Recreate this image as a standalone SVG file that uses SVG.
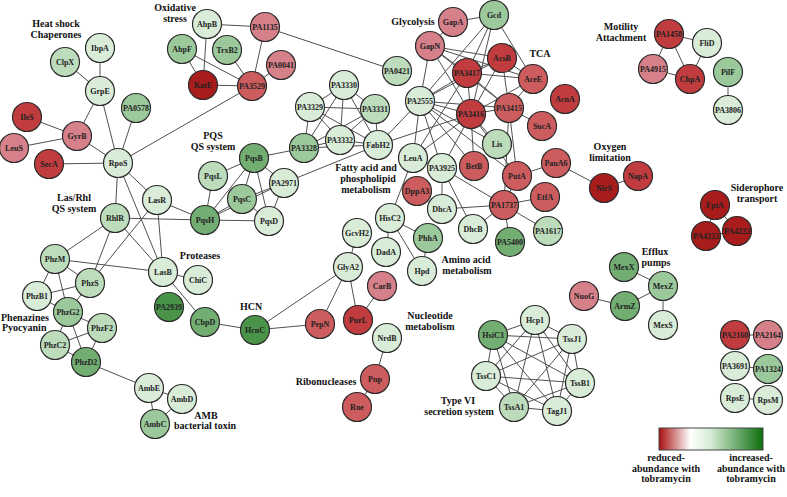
<svg xmlns="http://www.w3.org/2000/svg" width="787" height="497" viewBox="0 0 787 497">
<defs>
<linearGradient id="lg" x1="0" y1="0" x2="1" y2="0">
<stop offset="0" stop-color="#a80f0f"/>
<stop offset="0.3" stop-color="#ffffff"/>
<stop offset="0.5" stop-color="#d4ebd4"/>
<stop offset="1" stop-color="#0c6e0c"/>
</linearGradient>
</defs>
<style>
circle{stroke:#2b2b2b;stroke-width:1.2}
.nl{font-family:"Liberation Serif",serif;font-weight:bold;font-size:8px;fill:#222;text-anchor:middle}
.cl{font-family:"Liberation Serif",serif;font-weight:bold;font-size:10px;fill:#111;text-anchor:middle}
.st{text-anchor:start}
#edges line{stroke:#505050;stroke-width:1}
.r5{fill:#a81c1c}.r4{fill:#c03c3e}.r3{fill:#cc5c5e}.r2{fill:#d6808a}.r1{fill:#e0a0a2}
.g1{fill:#d8ecd8}.g2{fill:#bcdcbc}.g3{fill:#9cc99c}.g4{fill:#72ad72}.g5{fill:#4a944a}
</style>
<rect width="787" height="497" fill="#ffffff"/>
<g id="edges">
<line x1="100" y1="48" x2="100" y2="91"/>
<line x1="65" y1="62" x2="100" y2="91"/>
<line x1="100" y1="91" x2="77" y2="136"/>
<line x1="100" y1="91" x2="118" y2="163"/>
<line x1="27" y1="117" x2="77" y2="136"/>
<line x1="14" y1="148" x2="77" y2="136"/>
<line x1="77" y1="136" x2="118" y2="163"/>
<line x1="49" y1="164" x2="118" y2="163"/>
<line x1="136" y1="108" x2="118" y2="163"/>
<line x1="118" y1="163" x2="252" y2="86"/>
<line x1="207" y1="24" x2="265" y2="27"/>
<line x1="207" y1="24" x2="203" y2="85"/>
<line x1="182" y1="49" x2="203" y2="85"/>
<line x1="182" y1="49" x2="252" y2="86"/>
<line x1="227" y1="50" x2="252" y2="86"/>
<line x1="265" y1="27" x2="252" y2="86"/>
<line x1="281" y1="65" x2="252" y2="86"/>
<line x1="203" y1="85" x2="252" y2="86"/>
<line x1="265" y1="27" x2="397" y2="71"/>
<line x1="344" y1="85" x2="310" y2="107"/>
<line x1="344" y1="85" x2="375" y2="109"/>
<line x1="344" y1="85" x2="340" y2="140"/>
<line x1="344" y1="85" x2="304" y2="148"/>
<line x1="344" y1="85" x2="378" y2="145"/>
<line x1="310" y1="107" x2="375" y2="109"/>
<line x1="310" y1="107" x2="340" y2="140"/>
<line x1="310" y1="107" x2="304" y2="148"/>
<line x1="310" y1="107" x2="378" y2="145"/>
<line x1="375" y1="109" x2="340" y2="140"/>
<line x1="375" y1="109" x2="304" y2="148"/>
<line x1="375" y1="109" x2="378" y2="145"/>
<line x1="340" y1="140" x2="304" y2="148"/>
<line x1="340" y1="140" x2="378" y2="145"/>
<line x1="304" y1="148" x2="378" y2="145"/>
<line x1="254" y1="158" x2="304" y2="148"/>
<line x1="378" y1="145" x2="420" y2="101"/>
<line x1="378" y1="145" x2="471" y2="114"/>
<line x1="284" y1="183" x2="378" y2="145"/>
<line x1="254" y1="158" x2="213" y2="176"/>
<line x1="254" y1="158" x2="205" y2="220"/>
<line x1="254" y1="158" x2="242" y2="199"/>
<line x1="254" y1="158" x2="269" y2="221"/>
<line x1="254" y1="158" x2="284" y2="183"/>
<line x1="213" y1="176" x2="205" y2="220"/>
<line x1="205" y1="220" x2="242" y2="199"/>
<line x1="205" y1="220" x2="269" y2="221"/>
<line x1="205" y1="220" x2="284" y2="183"/>
<line x1="242" y1="199" x2="269" y2="221"/>
<line x1="242" y1="199" x2="284" y2="183"/>
<line x1="284" y1="183" x2="269" y2="221"/>
<line x1="118" y1="163" x2="157" y2="200"/>
<line x1="118" y1="163" x2="115" y2="218"/>
<line x1="118" y1="163" x2="163" y2="272"/>
<line x1="157" y1="200" x2="205" y2="220"/>
<line x1="157" y1="200" x2="163" y2="272"/>
<line x1="157" y1="200" x2="90" y2="283"/>
<line x1="115" y1="218" x2="205" y2="220"/>
<line x1="115" y1="218" x2="55" y2="259"/>
<line x1="115" y1="218" x2="90" y2="283"/>
<line x1="115" y1="218" x2="163" y2="272"/>
<line x1="55" y1="259" x2="163" y2="272"/>
<line x1="55" y1="259" x2="90" y2="283"/>
<line x1="55" y1="259" x2="37" y2="296"/>
<line x1="55" y1="259" x2="68" y2="312"/>
<line x1="90" y1="283" x2="37" y2="296"/>
<line x1="90" y1="283" x2="68" y2="312"/>
<line x1="37" y1="296" x2="68" y2="312"/>
<line x1="163" y1="272" x2="198" y2="280"/>
<line x1="163" y1="272" x2="205" y2="322"/>
<line x1="205" y1="322" x2="255" y2="330"/>
<line x1="68" y1="312" x2="55" y2="345"/>
<line x1="68" y1="312" x2="102" y2="328"/>
<line x1="68" y1="312" x2="86" y2="362"/>
<line x1="55" y1="345" x2="102" y2="328"/>
<line x1="55" y1="345" x2="86" y2="362"/>
<line x1="102" y1="328" x2="86" y2="362"/>
<line x1="86" y1="362" x2="149" y2="388"/>
<line x1="149" y1="388" x2="182" y2="399"/>
<line x1="149" y1="388" x2="155" y2="424"/>
<line x1="182" y1="399" x2="155" y2="424"/>
<line x1="255" y1="330" x2="320" y2="324"/>
<line x1="255" y1="330" x2="348" y2="267"/>
<line x1="348" y1="267" x2="357" y2="233"/>
<line x1="348" y1="267" x2="320" y2="324"/>
<line x1="348" y1="267" x2="358" y2="320"/>
<line x1="358" y1="320" x2="382" y2="286"/>
<line x1="387" y1="338" x2="375" y2="379"/>
<line x1="375" y1="379" x2="357" y2="407"/>
<line x1="453" y1="22" x2="494" y2="15"/>
<line x1="453" y1="22" x2="430" y2="46"/>
<line x1="494" y1="15" x2="467" y2="73"/>
<line x1="494" y1="15" x2="471" y2="114"/>
<line x1="494" y1="15" x2="533" y2="79"/>
<line x1="494" y1="15" x2="420" y2="101"/>
<line x1="430" y1="46" x2="420" y2="101"/>
<line x1="430" y1="46" x2="467" y2="73"/>
<line x1="430" y1="46" x2="502" y2="58"/>
<line x1="430" y1="46" x2="533" y2="79"/>
<line x1="430" y1="46" x2="471" y2="114"/>
<line x1="430" y1="46" x2="509" y2="108"/>
<line x1="502" y1="58" x2="467" y2="73"/>
<line x1="502" y1="58" x2="533" y2="79"/>
<line x1="502" y1="58" x2="471" y2="114"/>
<line x1="502" y1="58" x2="509" y2="108"/>
<line x1="502" y1="58" x2="420" y2="101"/>
<line x1="467" y1="73" x2="471" y2="114"/>
<line x1="467" y1="73" x2="509" y2="108"/>
<line x1="467" y1="73" x2="533" y2="79"/>
<line x1="467" y1="73" x2="420" y2="101"/>
<line x1="471" y1="114" x2="509" y2="108"/>
<line x1="471" y1="114" x2="533" y2="79"/>
<line x1="471" y1="114" x2="420" y2="101"/>
<line x1="509" y1="108" x2="533" y2="79"/>
<line x1="509" y1="108" x2="420" y2="101"/>
<line x1="509" y1="108" x2="542" y2="126"/>
<line x1="471" y1="114" x2="497" y2="144"/>
<line x1="420" y1="101" x2="497" y2="144"/>
<line x1="420" y1="101" x2="413" y2="158"/>
<line x1="420" y1="101" x2="442" y2="168"/>
<line x1="420" y1="101" x2="474" y2="166"/>
<line x1="420" y1="101" x2="517" y2="176"/>
<line x1="471" y1="114" x2="413" y2="158"/>
<line x1="471" y1="114" x2="442" y2="168"/>
<line x1="471" y1="114" x2="474" y2="166"/>
<line x1="471" y1="114" x2="517" y2="176"/>
<line x1="467" y1="73" x2="413" y2="158"/>
<line x1="509" y1="108" x2="504" y2="205"/>
<line x1="509" y1="108" x2="517" y2="176"/>
<line x1="517" y1="176" x2="556" y2="163"/>
<line x1="517" y1="176" x2="504" y2="205"/>
<line x1="556" y1="163" x2="604" y2="188"/>
<line x1="604" y1="188" x2="638" y2="176"/>
<line x1="504" y1="205" x2="545" y2="197"/>
<line x1="504" y1="205" x2="548" y2="231"/>
<line x1="504" y1="205" x2="510" y2="242"/>
<line x1="504" y1="205" x2="473" y2="229"/>
<line x1="504" y1="205" x2="442" y2="209"/>
<line x1="504" y1="205" x2="442" y2="168"/>
<line x1="442" y1="209" x2="442" y2="168"/>
<line x1="473" y1="229" x2="442" y2="168"/>
<line x1="413" y1="158" x2="390" y2="218"/>
<line x1="413" y1="158" x2="442" y2="168"/>
<line x1="390" y1="218" x2="428" y2="238"/>
<line x1="390" y1="218" x2="386" y2="252"/>
<line x1="390" y1="218" x2="422" y2="271"/>
<line x1="428" y1="238" x2="422" y2="271"/>
<line x1="669" y1="34" x2="707" y2="43"/>
<line x1="669" y1="34" x2="653" y2="69"/>
<line x1="669" y1="34" x2="690" y2="79"/>
<line x1="653" y1="69" x2="690" y2="79"/>
<line x1="707" y1="43" x2="690" y2="79"/>
<line x1="728" y1="72" x2="728" y2="110"/>
<line x1="715" y1="205" x2="706" y2="236"/>
<line x1="715" y1="205" x2="737" y2="231"/>
<line x1="706" y1="236" x2="737" y2="231"/>
<line x1="624" y1="267" x2="663" y2="286"/>
<line x1="663" y1="286" x2="625" y2="306"/>
<line x1="663" y1="286" x2="663" y2="325"/>
<line x1="625" y1="306" x2="584" y2="296"/>
<line x1="735" y1="335" x2="768" y2="335"/>
<line x1="735" y1="366" x2="768" y2="369"/>
<line x1="735" y1="398" x2="768" y2="400"/>
<line x1="535" y1="320" x2="493" y2="335"/>
<line x1="535" y1="320" x2="572" y2="339"/>
<line x1="535" y1="320" x2="486" y2="376"/>
<line x1="535" y1="320" x2="580" y2="383"/>
<line x1="535" y1="320" x2="514" y2="407"/>
<line x1="535" y1="320" x2="557" y2="411"/>
<line x1="493" y1="335" x2="572" y2="339"/>
<line x1="493" y1="335" x2="486" y2="376"/>
<line x1="493" y1="335" x2="580" y2="383"/>
<line x1="493" y1="335" x2="514" y2="407"/>
<line x1="493" y1="335" x2="557" y2="411"/>
<line x1="572" y1="339" x2="486" y2="376"/>
<line x1="572" y1="339" x2="580" y2="383"/>
<line x1="572" y1="339" x2="514" y2="407"/>
<line x1="572" y1="339" x2="557" y2="411"/>
<line x1="486" y1="376" x2="580" y2="383"/>
<line x1="486" y1="376" x2="514" y2="407"/>
<line x1="486" y1="376" x2="557" y2="411"/>
<line x1="580" y1="383" x2="514" y2="407"/>
<line x1="580" y1="383" x2="557" y2="411"/>
<line x1="514" y1="407" x2="557" y2="411"/>
</g>
<g id="n-IbpA"><circle cx="100" cy="48" r="14.5" class="g1"/><text class="nl" x="100" y="51">IbpA</text></g>
<g id="n-ClpX"><circle cx="65" cy="62" r="14.5" class="g2"/><text class="nl" x="65" y="65">ClpX</text></g>
<g id="n-GrpE"><circle cx="100" cy="91" r="14.5" class="g1"/><text class="nl" x="100" y="94">GrpE</text></g>
<g id="n-PA0578"><circle cx="136" cy="108" r="14.5" class="g3"/><text class="nl" x="136" y="111">PA0578</text></g>
<g id="n-IleS"><circle cx="27" cy="117" r="14.5" class="r4"/><text class="nl" x="27" y="120">IleS</text></g>
<g id="n-GyrB"><circle cx="77" cy="136" r="14.5" class="r2"/><text class="nl" x="77" y="139">GyrB</text></g>
<g id="n-LeuS"><circle cx="14" cy="148" r="14.5" class="r2"/><text class="nl" x="14" y="151">LeuS</text></g>
<g id="n-SecA"><circle cx="49" cy="164" r="14.5" class="r4"/><text class="nl" x="49" y="167">SecA</text></g>
<g id="n-RpoS"><circle cx="118" cy="163" r="14.5" class="g1"/><text class="nl" x="118" y="166">RpoS</text></g>
<g id="n-AhpB"><circle cx="207" cy="24" r="14.5" class="g1"/><text class="nl" x="207" y="27">AhpB</text></g>
<g id="n-AhpF"><circle cx="182" cy="49" r="14.5" class="g3"/><text class="nl" x="182" y="52">AhpF</text></g>
<g id="n-TrxB2"><circle cx="227" cy="50" r="14.5" class="g3"/><text class="nl" x="227" y="53">TrxB2</text></g>
<g id="n-PA1135"><circle cx="265" cy="27" r="14.5" class="r2"/><text class="nl" x="265" y="30">PA1135</text></g>
<g id="n-PA0041"><circle cx="281" cy="65" r="14.5" class="r2"/><text class="nl" x="281" y="68">PA0041</text></g>
<g id="n-KatE"><circle cx="203" cy="85" r="14.5" class="r5"/><text class="nl" x="203" y="88">KatE</text></g>
<g id="n-PA3529"><circle cx="252" cy="86" r="14.5" class="r3"/><text class="nl" x="252" y="89">PA3529</text></g>
<g id="n-PA3330"><circle cx="344" cy="85" r="14.5" class="g1"/><text class="nl" x="344" y="88">PA3330</text></g>
<g id="n-PA3329"><circle cx="310" cy="107" r="14.5" class="g1"/><text class="nl" x="310" y="110">PA3329</text></g>
<g id="n-PA3331"><circle cx="375" cy="109" r="14.5" class="g2"/><text class="nl" x="375" y="112">PA3331</text></g>
<g id="n-PA3332"><circle cx="340" cy="140" r="14.5" class="g1"/><text class="nl" x="340" y="143">PA3332</text></g>
<g id="n-PA3328"><circle cx="304" cy="148" r="14.5" class="g3"/><text class="nl" x="304" y="151">PA3328</text></g>
<g id="n-FabH2"><circle cx="378" cy="145" r="14.5" class="g1"/><text class="nl" x="378" y="148">FabH2</text></g>
<g id="n-PqsB"><circle cx="254" cy="158" r="14.5" class="g4"/><text class="nl" x="254" y="161">PqsB</text></g>
<g id="n-PqsL"><circle cx="213" cy="176" r="14.5" class="g2"/><text class="nl" x="213" y="179">PqsL</text></g>
<g id="n-PA2971"><circle cx="284" cy="183" r="14.5" class="g1"/><text class="nl" x="284" y="186">PA2971</text></g>
<g id="n-PqsC"><circle cx="242" cy="199" r="14.5" class="g3"/><text class="nl" x="242" y="202">PqsC</text></g>
<g id="n-PqsH"><circle cx="205" cy="220" r="14.5" class="g4"/><text class="nl" x="205" y="223">PqsH</text></g>
<g id="n-PqsD"><circle cx="269" cy="221" r="14.5" class="g1"/><text class="nl" x="269" y="224">PqsD</text></g>
<g id="n-GapA"><circle cx="453" cy="22" r="14.5" class="r2"/><text class="nl" x="453" y="25">GapA</text></g>
<g id="n-Gcd"><circle cx="494" cy="15" r="14.5" class="g3"/><text class="nl" x="494" y="18">Gcd</text></g>
<g id="n-GapN"><circle cx="430" cy="46" r="14.5" class="r2"/><text class="nl" x="430" y="49">GapN</text></g>
<g id="n-PA0421"><circle cx="397" cy="71" r="14.5" class="g2"/><text class="nl" x="397" y="74">PA0421</text></g>
<g id="n-AcsB"><circle cx="502" cy="58" r="14.5" class="r4"/><text class="nl" x="502" y="61">AcsB</text></g>
<g id="n-PA3417"><circle cx="467" cy="73" r="14.5" class="r4"/><text class="nl" x="467" y="76">PA3417</text></g>
<g id="n-AceE"><circle cx="533" cy="79" r="14.5" class="r3"/><text class="nl" x="533" y="82">AceE</text></g>
<g id="n-AcnA"><circle cx="565" cy="99" r="14.5" class="r4"/><text class="nl" x="565" y="102">AcnA</text></g>
<g id="n-PA2555"><circle cx="420" cy="101" r="14.5" class="g1"/><text class="nl" x="420" y="104">PA2555</text></g>
<g id="n-PA3416"><circle cx="471" cy="114" r="14.5" class="r4"/><text class="nl" x="471" y="117">PA3416</text></g>
<g id="n-PA3415"><circle cx="509" cy="108" r="14.5" class="r3"/><text class="nl" x="509" y="111">PA3415</text></g>
<g id="n-SucA"><circle cx="542" cy="126" r="14.5" class="r3"/><text class="nl" x="542" y="129">SucA</text></g>
<g id="n-Lis"><circle cx="497" cy="144" r="14.5" class="g2"/><text class="nl" x="497" y="147">Lis</text></g>
<g id="n-LeuA"><circle cx="413" cy="158" r="14.5" class="g1"/><text class="nl" x="413" y="161">LeuA</text></g>
<g id="n-PA3925"><circle cx="442" cy="168" r="14.5" class="g1"/><text class="nl" x="442" y="171">PA3925</text></g>
<g id="n-BetB"><circle cx="474" cy="166" r="14.5" class="r3"/><text class="nl" x="474" y="169">BetB</text></g>
<g id="n-PauA6"><circle cx="556" cy="163" r="14.5" class="r3"/><text class="nl" x="556" y="166">PauA6</text></g>
<g id="n-PutA"><circle cx="517" cy="176" r="14.5" class="r3"/><text class="nl" x="517" y="179">PutA</text></g>
<g id="n-DppA3"><circle cx="417" cy="191" r="14.5" class="r3"/><text class="nl" x="417" y="194">DppA3</text></g>
<g id="n-PA1737"><circle cx="504" cy="205" r="14.5" class="r3"/><text class="nl" x="504" y="208">PA1737</text></g>
<g id="n-EtfA"><circle cx="545" cy="197" r="14.5" class="r3"/><text class="nl" x="545" y="200">EtfA</text></g>
<g id="n-DhcA"><circle cx="442" cy="209" r="14.5" class="g1"/><text class="nl" x="442" y="212">DhcA</text></g>
<g id="n-HisC2"><circle cx="390" cy="218" r="14.5" class="g1"/><text class="nl" x="390" y="221">HisC2</text></g>
<g id="n-DhcB"><circle cx="473" cy="229" r="14.5" class="g1"/><text class="nl" x="473" y="232">DhcB</text></g>
<g id="n-PA1617"><circle cx="548" cy="231" r="14.5" class="g2"/><text class="nl" x="548" y="234">PA1617</text></g>
<g id="n-PhhA"><circle cx="428" cy="238" r="14.5" class="g3"/><text class="nl" x="428" y="241">PhhA</text></g>
<g id="n-PA5400"><circle cx="510" cy="242" r="14.5" class="g4"/><text class="nl" x="510" y="245">PA5400</text></g>
<g id="n-DadA"><circle cx="386" cy="252" r="14.5" class="g1"/><text class="nl" x="386" y="255">DadA</text></g>
<g id="n-Hpd"><circle cx="422" cy="271" r="14.5" class="g1"/><text class="nl" x="422" y="274">Hpd</text></g>
<g id="n-PA1458"><circle cx="669" cy="34" r="14.5" class="r4"/><text class="nl" x="669" y="37">PA1458</text></g>
<g id="n-FliD"><circle cx="707" cy="43" r="14.5" class="g1"/><text class="nl" x="707" y="46">FliD</text></g>
<g id="n-PA4915"><circle cx="653" cy="69" r="14.5" class="r2"/><text class="nl" x="653" y="72">PA4915</text></g>
<g id="n-ChpA"><circle cx="690" cy="79" r="14.5" class="r4"/><text class="nl" x="690" y="82">ChpA</text></g>
<g id="n-PilF"><circle cx="728" cy="72" r="14.5" class="g3"/><text class="nl" x="728" y="75">PilF</text></g>
<g id="n-PA3806"><circle cx="728" cy="110" r="14.5" class="g1"/><text class="nl" x="728" y="113">PA3806</text></g>
<g id="n-NirS"><circle cx="604" cy="188" r="14.5" class="r5"/><text class="nl" x="604" y="191">NirS</text></g>
<g id="n-NapA"><circle cx="638" cy="176" r="14.5" class="r4"/><text class="nl" x="638" y="179">NapA</text></g>
<g id="n-FptA"><circle cx="715" cy="205" r="14.5" class="r5"/><text class="nl" x="715" y="208">FptA</text></g>
<g id="n-PA4223"><circle cx="706" cy="236" r="14.5" class="r5"/><text class="nl" x="706" y="239">PA4223</text></g>
<g id="n-PA4222"><circle cx="737" cy="231" r="14.5" class="r5"/><text class="nl" x="737" y="234">PA4222</text></g>
<g id="n-MexX"><circle cx="624" cy="267" r="14.5" class="g4"/><text class="nl" x="624" y="270">MexX</text></g>
<g id="n-MexZ"><circle cx="663" cy="286" r="14.5" class="g3"/><text class="nl" x="663" y="289">MexZ</text></g>
<g id="n-ArmZ"><circle cx="625" cy="306" r="14.5" class="g4"/><text class="nl" x="625" y="309">ArmZ</text></g>
<g id="n-MexS"><circle cx="663" cy="325" r="14.5" class="g1"/><text class="nl" x="663" y="328">MexS</text></g>
<g id="n-NuoG"><circle cx="584" cy="296" r="14.5" class="r2"/><text class="nl" x="584" y="299">NuoG</text></g>
<g id="n-LasR"><circle cx="157" cy="200" r="14.5" class="g1"/><text class="nl" x="157" y="203">LasR</text></g>
<g id="n-RhlR"><circle cx="115" cy="218" r="14.5" class="g2"/><text class="nl" x="115" y="221">RhlR</text></g>
<g id="n-PhzM"><circle cx="55" cy="259" r="14.5" class="g2"/><text class="nl" x="55" y="262">PhzM</text></g>
<g id="n-PhzS"><circle cx="90" cy="283" r="14.5" class="g2"/><text class="nl" x="90" y="286">PhzS</text></g>
<g id="n-LasB"><circle cx="163" cy="272" r="14.5" class="g1"/><text class="nl" x="163" y="275">LasB</text></g>
<g id="n-ChiC"><circle cx="198" cy="280" r="14.5" class="g1"/><text class="nl" x="198" y="283">ChiC</text></g>
<g id="n-PhzB1"><circle cx="37" cy="296" r="14.5" class="g1"/><text class="nl" x="37" y="299">PhzB1</text></g>
<g id="n-PhzG2"><circle cx="68" cy="312" r="14.5" class="g3"/><text class="nl" x="68" y="315">PhzG2</text></g>
<g id="n-PA2939"><circle cx="169" cy="307" r="14.5" class="g5"/><text class="nl" x="169" y="310">PA2939</text></g>
<g id="n-CbpD"><circle cx="205" cy="322" r="14.5" class="g4"/><text class="nl" x="205" y="325">CbpD</text></g>
<g id="n-PhzF2"><circle cx="102" cy="328" r="14.5" class="g2"/><text class="nl" x="102" y="331">PhzF2</text></g>
<g id="n-PhzC2"><circle cx="55" cy="345" r="14.5" class="g2"/><text class="nl" x="55" y="348">PhzC2</text></g>
<g id="n-PhzD2"><circle cx="86" cy="362" r="14.5" class="g4"/><text class="nl" x="86" y="365">PhzD2</text></g>
<g id="n-AmbE"><circle cx="149" cy="388" r="14.5" class="g1"/><text class="nl" x="149" y="391">AmbE</text></g>
<g id="n-AmbD"><circle cx="182" cy="399" r="14.5" class="g1"/><text class="nl" x="182" y="402">AmbD</text></g>
<g id="n-AmbC"><circle cx="155" cy="424" r="14.5" class="g3"/><text class="nl" x="155" y="427">AmbC</text></g>
<g id="n-GcvH2"><circle cx="357" cy="233" r="14.5" class="g1"/><text class="nl" x="357" y="236">GcvH2</text></g>
<g id="n-GlyA2"><circle cx="348" cy="267" r="14.5" class="g1"/><text class="nl" x="348" y="270">GlyA2</text></g>
<g id="n-CarB"><circle cx="382" cy="286" r="14.5" class="r2"/><text class="nl" x="382" y="289">CarB</text></g>
<g id="n-HcnC"><circle cx="255" cy="330" r="14.5" class="g5"/><text class="nl" x="255" y="333">HcnC</text></g>
<g id="n-PepN"><circle cx="320" cy="324" r="14.5" class="r3"/><text class="nl" x="320" y="327">PepN</text></g>
<g id="n-PurL"><circle cx="358" cy="320" r="14.5" class="r4"/><text class="nl" x="358" y="323">PurL</text></g>
<g id="n-NrdB"><circle cx="387" cy="338" r="14.5" class="g1"/><text class="nl" x="387" y="341">NrdB</text></g>
<g id="n-Pnp"><circle cx="375" cy="379" r="14.5" class="r3"/><text class="nl" x="375" y="382">Pnp</text></g>
<g id="n-Rne"><circle cx="357" cy="407" r="14.5" class="r3"/><text class="nl" x="357" y="410">Rne</text></g>
<g id="n-Hcp1"><circle cx="535" cy="320" r="14.5" class="g1"/><text class="nl" x="535" y="323">Hcp1</text></g>
<g id="n-HsiC3"><circle cx="493" cy="335" r="14.5" class="g4"/><text class="nl" x="493" y="338">HsiC3</text></g>
<g id="n-TssJ1"><circle cx="572" cy="339" r="14.5" class="g1"/><text class="nl" x="572" y="342">TssJ1</text></g>
<g id="n-TssC1"><circle cx="486" cy="376" r="14.5" class="g1"/><text class="nl" x="486" y="379">TssC1</text></g>
<g id="n-TssB1"><circle cx="580" cy="383" r="14.5" class="g1"/><text class="nl" x="580" y="386">TssB1</text></g>
<g id="n-TssA1"><circle cx="514" cy="407" r="14.5" class="g2"/><text class="nl" x="514" y="410">TssA1</text></g>
<g id="n-TagJ1"><circle cx="557" cy="411" r="14.5" class="g1"/><text class="nl" x="557" y="414">TagJ1</text></g>
<g id="n-PA2160"><circle cx="735" cy="335" r="14.5" class="r4"/><text class="nl" x="735" y="338">PA2160</text></g>
<g id="n-PA2164"><circle cx="768" cy="335" r="14.5" class="r2"/><text class="nl" x="768" y="338">PA2164</text></g>
<g id="n-PA3691"><circle cx="735" cy="366" r="14.5" class="g1"/><text class="nl" x="735" y="369">PA3691</text></g>
<g id="n-PA1324"><circle cx="768" cy="369" r="14.5" class="g3"/><text class="nl" x="768" y="372">PA1324</text></g>
<g id="n-RpsE"><circle cx="735" cy="398" r="14.5" class="g1"/><text class="nl" x="735" y="401">RpsE</text></g>
<g id="n-RpsM"><circle cx="768" cy="400" r="14.5" class="g1"/><text class="nl" x="768" y="403">RpsM</text></g>
<g id="labels">
<text class="cl" x="56" y="27">Heat shock</text>
<text class="cl" x="56" y="38">Chaperones</text>
<text class="cl" x="175" y="11">Oxidative</text>
<text class="cl" x="175" y="22">stress</text>
<text class="cl" x="413" y="25">Glycolysis</text>
<text class="cl" x="540" y="57">TCA</text>
<text class="cl" x="621" y="30">Motility</text>
<text class="cl" x="621" y="41">Attachment</text>
<text class="cl" x="610" y="150">Oxygen</text>
<text class="cl" x="610" y="161">limitation</text>
<text class="cl" x="757" y="191">Siderophore</text>
<text class="cl" x="757" y="202">transport</text>
<text class="cl" x="655" y="255">Efflux</text>
<text class="cl" x="656" y="266">pumps</text>
<text class="cl" x="213" y="139">PQS</text>
<text class="cl" x="213" y="150">QS system</text>
<text class="cl" x="74" y="201">Las/Rhl</text>
<text class="cl" x="74" y="212">QS system</text>
<text class="cl" x="200" y="259">Proteases</text>
<text class="cl st" x="1" y="321">Phenazines</text>
<text class="cl st" x="2" y="331">Pyocyanin</text>
<text class="cl" x="251" y="310">HCN</text>
<text class="cl" x="366" y="171">Fatty acid and</text>
<text class="cl" x="368" y="182">phospholipid</text>
<text class="cl" x="366" y="193">metabolism</text>
<text class="cl" x="466" y="263">Amino acid</text>
<text class="cl" x="467" y="274">metabolism</text>
<text class="cl" x="430" y="319">Nucleotide</text>
<text class="cl" x="430" y="330">metabolism</text>
<text class="cl" x="326" y="385">Ribonucleases</text>
<text class="cl" x="458" y="404">Type VI</text>
<text class="cl" x="459" y="415">secretion system</text>
<text class="cl" x="206" y="419">AMB</text>
<text class="cl" x="205" y="429">bacterial toxin</text>
</g>
<g id="legend">
<rect x="659" y="428" width="104" height="22" fill="url(#lg)" stroke="#444" stroke-width="1"/>
<text class="cl" x="666" y="461">reduced-</text>
<text class="cl" x="666" y="472">abundance with</text>
<text class="cl" x="666" y="482">tobramycin</text>
<text class="cl" x="751" y="461">increased-</text>
<text class="cl" x="751" y="472">abundance with</text>
<text class="cl" x="751" y="482">tobramycin</text>
</g>
</svg>
